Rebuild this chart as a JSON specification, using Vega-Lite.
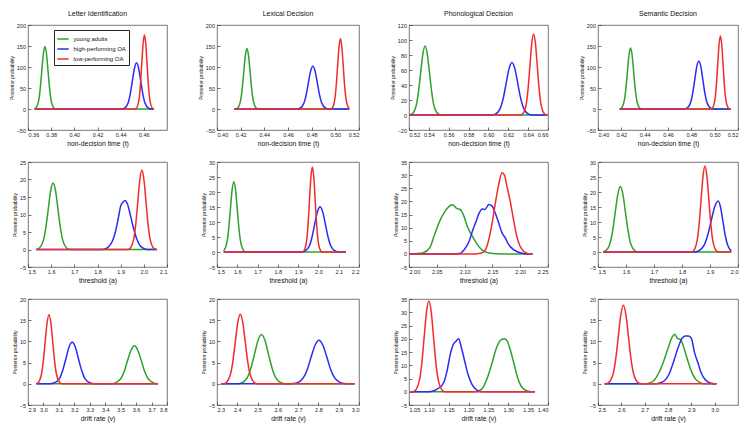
{
"$schema":"https://vega.github.io/schema/vega-lite/v6.json",
"padding":{"left":8,"top":9,"right":5,"bottom":3},
"background":"white",
"datasets":{
"p1":[{"g":"YA","x":0.3657,"y":0.3},{"g":"YA","x":0.3665,"y":1.6},{"g":"YA","x":0.3692,"y":20.1},{"g":"YA","x":0.37055,"y":48.4},{"g":"YA","x":0.3719,"y":90.4},{"g":"YA","x":0.37325,"y":131.6},{"g":"YA","x":0.3746,"y":149},{"g":"YA","x":0.37595,"y":131.6},{"g":"YA","x":0.3773,"y":90.4},{"g":"YA","x":0.37865,"y":48.4},{"g":"YA","x":0.38,"y":20.1},{"g":"YA","x":0.3827,"y":1.6},{"g":"YA","x":0.384,"y":0},{"g":"YA","x":0.4688,"y":0},
{"g":"HP","x":0.3657,"y":0},{"g":"HP","x":0.4411,"y":0},{"g":"HP","x":0.4429,"y":1.2},{"g":"HP","x":0.4465,"y":14.9},{"g":"HP","x":0.4483,"y":35.8},{"g":"HP","x":0.4501,"y":66.8},{"g":"HP","x":0.4519,"y":97.1},{"g":"HP","x":0.4537,"y":110},{"g":"HP","x":0.4555,"y":97.1},{"g":"HP","x":0.4573,"y":66.8},{"g":"HP","x":0.4591,"y":35.8},{"g":"HP","x":0.4609,"y":14.9},{"g":"HP","x":0.4645,"y":1.2},{"g":"HP","x":0.4663,"y":0},{"g":"HP","x":0.4688,"y":0},
{"g":"LP","x":0.3657,"y":0},{"g":"LP","x":0.4524,"y":0},{"g":"LP","x":0.4536,"y":1.9},{"g":"LP","x":0.4559,"y":23.8},{"g":"LP","x":0.45705,"y":57.2},{"g":"LP","x":0.4582,"y":106.8},{"g":"LP","x":0.45935,"y":155.4},{"g":"LP","x":0.4605,"y":176},{"g":"LP","x":0.46165,"y":155.4},{"g":"LP","x":0.4628,"y":106.8},{"g":"LP","x":0.46395,"y":57.2},{"g":"LP","x":0.4651,"y":23.8},{"g":"LP","x":0.4674,"y":1.9},{"g":"LP","x":0.4688,"y":0}],
"p2":[{"g":"YA","x":0.4146,"y":0},{"g":"YA","x":0.4159,"y":0},{"g":"YA","x":0.4172,"y":1.6},{"g":"YA","x":0.4199,"y":19.4},{"g":"YA","x":0.42125,"y":46.8},{"g":"YA","x":0.4226,"y":87.4},{"g":"YA","x":0.42395,"y":127.2},{"g":"YA","x":0.4253,"y":144},{"g":"YA","x":0.42665,"y":127.2},{"g":"YA","x":0.428,"y":87.4},{"g":"YA","x":0.42935,"y":46.8},{"g":"YA","x":0.4307,"y":19.4},{"g":"YA","x":0.4334,"y":1.6},{"g":"YA","x":0.4348,"y":0},{"g":"YA","x":0.5118,"y":0},
{"g":"HP","x":0.4146,"y":0},{"g":"HP","x":0.4677,"y":0},{"g":"HP","x":0.4696,"y":1.1},{"g":"HP","x":0.4734,"y":13.8},{"g":"HP","x":0.4753,"y":33.2},{"g":"HP","x":0.4772,"y":61.9},{"g":"HP","x":0.4791,"y":90.1},{"g":"HP","x":0.481,"y":102},{"g":"HP","x":0.4829,"y":90.1},{"g":"HP","x":0.4848,"y":61.9},{"g":"HP","x":0.4867,"y":33.2},{"g":"HP","x":0.4886,"y":13.8},{"g":"HP","x":0.4924,"y":1.1},{"g":"HP","x":0.4943,"y":0},{"g":"HP","x":0.5118,"y":0},
{"g":"LP","x":0.4146,"y":0},{"g":"LP","x":0.4959,"y":0},{"g":"LP","x":0.4971,"y":1.8},{"g":"LP","x":0.4995,"y":22.5},{"g":"LP","x":0.5007,"y":54.3},{"g":"LP","x":0.5019,"y":101.4},{"g":"LP","x":0.5031,"y":147.5},{"g":"LP","x":0.5043,"y":167},{"g":"LP","x":0.5055,"y":147.5},{"g":"LP","x":0.5067,"y":101.4},{"g":"LP","x":0.5079,"y":54.3},{"g":"LP","x":0.5091,"y":22.5},{"g":"LP","x":0.5115,"y":1.8},{"g":"LP","x":0.5118,"y":0.8}],
"p3":[{"g":"YA","x":0.5205,"y":0.1},{"g":"YA","x":0.5227,"y":1.0},{"g":"YA","x":0.5272,"y":12.4},{"g":"YA","x":0.52945,"y":29.9},{"g":"YA","x":0.5317,"y":55.8},{"g":"YA","x":0.53395,"y":81.2},{"g":"YA","x":0.5362,"y":92},{"g":"YA","x":0.53845,"y":81.2},{"g":"YA","x":0.5407,"y":55.8},{"g":"YA","x":0.54295,"y":29.9},{"g":"YA","x":0.5452,"y":12.4},{"g":"YA","x":0.5497,"y":1.0},{"g":"YA","x":0.552,"y":0},{"g":"YA","x":0.6595,"y":0},
{"g":"HP","x":0.5205,"y":0},{"g":"HP","x":0.6034,"y":0},{"g":"HP","x":0.6063,"y":0.8},{"g":"HP","x":0.6121,"y":9.5},{"g":"HP","x":0.615,"y":22.8},{"g":"HP","x":0.6179,"y":42.5},{"g":"HP","x":0.6208,"y":61.8},{"g":"HP","x":0.6237,"y":70},{"g":"HP","x":0.6266,"y":61.8},{"g":"HP","x":0.6295,"y":42.5},{"g":"HP","x":0.6324,"y":22.8},{"g":"HP","x":0.6353,"y":9.5},{"g":"HP","x":0.6411,"y":0.8},{"g":"HP","x":0.644,"y":0},{"g":"HP","x":0.6595,"y":0},
{"g":"LP","x":0.5205,"y":0},{"g":"LP","x":0.6326,"y":0},{"g":"LP","x":0.6344,"y":1.2},{"g":"LP","x":0.6381,"y":14.6},{"g":"LP","x":0.63995,"y":35.1},{"g":"LP","x":0.6418,"y":65.6},{"g":"LP","x":0.64365,"y":95.4},{"g":"LP","x":0.6455,"y":108},{"g":"LP","x":0.64735,"y":95.4},{"g":"LP","x":0.6492,"y":65.6},{"g":"LP","x":0.65105,"y":35.1},{"g":"LP","x":0.6529,"y":14.6},{"g":"LP","x":0.6566,"y":1.2},{"g":"LP","x":0.6585,"y":0},{"g":"LP","x":0.6595,"y":0}],
"p4":[{"g":"YA","x":0.4185,"y":0.1},{"g":"YA","x":0.4198,"y":1.6},{"g":"YA","x":0.4225,"y":19.6},{"g":"YA","x":0.42385,"y":47.1},{"g":"YA","x":0.4252,"y":88},{"g":"YA","x":0.42655,"y":128},{"g":"YA","x":0.4279,"y":145},{"g":"YA","x":0.42925,"y":128},{"g":"YA","x":0.4306,"y":88},{"g":"YA","x":0.43195,"y":47.1},{"g":"YA","x":0.4333,"y":19.6},{"g":"YA","x":0.436,"y":1.6},{"g":"YA","x":0.4374,"y":0},{"g":"YA","x":0.5137,"y":0},
{"g":"HP","x":0.4185,"y":0},{"g":"HP","x":0.4742,"y":0},{"g":"HP","x":0.4759,"y":1.3},{"g":"HP","x":0.4794,"y":15.4},{"g":"HP","x":0.48115,"y":37.1},{"g":"HP","x":0.4829,"y":69.2},{"g":"HP","x":0.48465,"y":100.7},{"g":"HP","x":0.4864,"y":114},{"g":"HP","x":0.48815,"y":100.7},{"g":"HP","x":0.4899,"y":69.2},{"g":"HP","x":0.49165,"y":37.1},{"g":"HP","x":0.4934,"y":15.4},{"g":"HP","x":0.4969,"y":1.3},{"g":"HP","x":0.4987,"y":0},{"g":"HP","x":0.5137,"y":0},
{"g":"LP","x":0.4185,"y":0},{"g":"LP","x":0.4969,"y":0},{"g":"LP","x":0.498,"y":1.9},{"g":"LP","x":0.5003,"y":23.5},{"g":"LP","x":0.50145,"y":56.6},{"g":"LP","x":0.5026,"y":105.6},{"g":"LP","x":0.50375,"y":153.6},{"g":"LP","x":0.5049,"y":174},{"g":"LP","x":0.50605,"y":153.6},{"g":"LP","x":0.5072,"y":105.6},{"g":"LP","x":0.50835,"y":56.6},{"g":"LP","x":0.5095,"y":23.5},{"g":"LP","x":0.5118,"y":1.9},{"g":"LP","x":0.513,"y":0},{"g":"LP","x":0.5137,"y":0}],
"p5":[{"g":"YA","x":1.536,"y":0},{"g":"YA","x":1.5454,"y":0.2},{"g":"YA","x":1.5664,"y":2.6},{"g":"YA","x":1.5769,"y":6.2},{"g":"YA","x":1.5874,"y":11.5},{"g":"YA","x":1.5979,"y":16.8},{"g":"YA","x":1.6084,"y":19},{"g":"YA","x":1.6189,"y":16.8},{"g":"YA","x":1.6294,"y":11.5},{"g":"YA","x":1.6399,"y":6.2},{"g":"YA","x":1.6504,"y":2.6},{"g":"YA","x":1.6714,"y":0.2},{"g":"YA","x":1.682,"y":0},{"g":"YA","x":2.057,"y":0},
{"g":"HP","x":1.536,"y":0},{"g":"HP","x":1.82,"y":0},{"g":"HP","x":1.835,"y":0.2},{"g":"HP","x":1.85,"y":0.9},{"g":"HP","x":1.865,"y":2.5},{"g":"HP","x":1.878,"y":5.2},{"g":"HP","x":1.89,"y":9.0},{"g":"HP","x":1.9,"y":12.4},{"g":"HP","x":1.91,"y":13.5},{"g":"HP","x":1.919,"y":14},{"g":"HP","x":1.928,"y":13.2},{"g":"HP","x":1.94,"y":10.4},{"g":"HP","x":1.955,"y":6.2},{"g":"HP","x":1.97,"y":2.9},{"g":"HP","x":1.985,"y":1.0},{"g":"HP","x":2.0,"y":0.3},{"g":"HP","x":2.015,"y":0},{"g":"HP","x":2.057,"y":0},
{"g":"LP","x":1.536,"y":0},{"g":"LP","x":1.9304,"y":0},{"g":"LP","x":1.9391,"y":0.25},{"g":"LP","x":1.9566,"y":3.1},{"g":"LP","x":1.9654,"y":7.4},{"g":"LP","x":1.9741,"y":13.8},{"g":"LP","x":1.9829,"y":20},{"g":"LP","x":1.9916,"y":22.7},{"g":"LP","x":2.0003,"y":20},{"g":"LP","x":2.0091,"y":13.8},{"g":"LP","x":2.0179,"y":7.4},{"g":"LP","x":2.0266,"y":3.1},{"g":"LP","x":2.0441,"y":0.25},{"g":"LP","x":2.0529,"y":0},{"g":"LP","x":2.057,"y":0}],
"p6":[{"g":"YA","x":1.533,"y":0.3},{"g":"YA","x":1.549,"y":3.2},{"g":"YA","x":1.5575,"y":7.6},{"g":"YA","x":1.566,"y":14.2},{"g":"YA","x":1.5745,"y":20.7},{"g":"YA","x":1.583,"y":23.4},{"g":"YA","x":1.5915,"y":20.7},{"g":"YA","x":1.6,"y":14.2},{"g":"YA","x":1.6085,"y":7.6},{"g":"YA","x":1.617,"y":3.2},{"g":"YA","x":1.634,"y":0.26},{"g":"YA","x":1.6425,"y":0},{"g":"YA","x":2.135,"y":0},
{"g":"HP","x":1.533,"y":0},{"g":"HP","x":1.9153,"y":0},{"g":"HP","x":1.9285,"y":0.17},{"g":"HP","x":1.955,"y":2.0},{"g":"HP","x":1.9683,"y":4.9},{"g":"HP","x":1.9815,"y":9.2},{"g":"HP","x":1.9948,"y":13.3},{"g":"HP","x":2.008,"y":15.1},{"g":"HP","x":2.0213,"y":13.3},{"g":"HP","x":2.0345,"y":9.2},{"g":"HP","x":2.0478,"y":4.9},{"g":"HP","x":2.061,"y":2.0},{"g":"HP","x":2.0875,"y":0.17},{"g":"HP","x":2.1008,"y":0},{"g":"HP","x":2.135,"y":0},
{"g":"LP","x":1.533,"y":0},{"g":"LP","x":1.9207,"y":0},{"g":"LP","x":1.9277,"y":0.3},{"g":"LP","x":1.9418,"y":3.8},{"g":"LP","x":1.9489,"y":9.2},{"g":"LP","x":1.9559,"y":17.2},{"g":"LP","x":1.963,"y":25},{"g":"LP","x":1.97,"y":28.3},{"g":"LP","x":1.9771,"y":25},{"g":"LP","x":1.9841,"y":17.2},{"g":"LP","x":1.9912,"y":9.2},{"g":"LP","x":1.9982,"y":3.8},{"g":"LP","x":2.0123,"y":0.3},{"g":"LP","x":2.0194,"y":0},{"g":"LP","x":2.135,"y":0}],
"p7":[{"g":"YA","x":2.0006,"y":0},{"g":"YA","x":2.015,"y":0.1},{"g":"YA","x":2.0254,"y":0.4},{"g":"YA","x":2.0372,"y":2.3},{"g":"YA","x":2.0461,"y":7.4},{"g":"YA","x":2.055,"y":12.4},{"g":"YA","x":2.0638,"y":15.9},{"g":"YA","x":2.0727,"y":18.2},{"g":"YA","x":2.0786,"y":18.7},{"g":"YA","x":2.0857,"y":17.3},{"g":"YA","x":2.0922,"y":16.9},{"g":"YA","x":2.0993,"y":14.1},{"g":"YA","x":2.1052,"y":10.3},{"g":"YA","x":2.1141,"y":6.7},{"g":"YA","x":2.1229,"y":3.6},{"g":"YA","x":2.1318,"y":1.4},{"g":"YA","x":2.1466,"y":0.25},{"g":"YA","x":2.1673,"y":0},{"g":"YA","x":2.2222,"y":0},
{"g":"HP","x":2.0006,"y":0},{"g":"HP","x":2.08,"y":0},{"g":"HP","x":2.0904,"y":0.1},{"g":"HP","x":2.0993,"y":1.6},{"g":"HP","x":2.1082,"y":4.8},{"g":"HP","x":2.114,"y":8.6},{"g":"HP","x":2.12,"y":12},{"g":"HP","x":2.1259,"y":15.4},{"g":"HP","x":2.1318,"y":17.1},{"g":"HP","x":2.1365,"y":16.9},{"g":"HP","x":2.1436,"y":18.8},{"g":"HP","x":2.1495,"y":18.2},{"g":"HP","x":2.1554,"y":15.4},{"g":"HP","x":2.1613,"y":11.8},{"g":"HP","x":2.1673,"y":8},{"g":"HP","x":2.1732,"y":6.1},{"g":"HP","x":2.1791,"y":3.6},{"g":"HP","x":2.188,"y":1.6},{"g":"HP","x":2.1998,"y":0.4},{"g":"HP","x":2.2116,"y":0},{"g":"HP","x":2.2222,"y":0},
{"g":"LP","x":2.0006,"y":0},{"g":"LP","x":2.12,"y":0},{"g":"LP","x":2.1318,"y":0.4},{"g":"LP","x":2.1377,"y":1.6},{"g":"LP","x":2.1436,"y":5.5},{"g":"LP","x":2.1495,"y":11.8},{"g":"LP","x":2.1554,"y":19.4},{"g":"LP","x":2.1613,"y":26.4},{"g":"LP","x":2.1673,"y":30.9},{"g":"LP","x":2.172,"y":29.8},{"g":"LP","x":2.1761,"y":25.8},{"g":"LP","x":2.182,"y":20.1},{"g":"LP","x":2.1879,"y":13.1},{"g":"LP","x":2.1939,"y":6.7},{"g":"LP","x":2.1998,"y":2.9},{"g":"LP","x":2.2086,"y":0.6},{"g":"LP","x":2.2175,"y":0},{"g":"LP","x":2.2222,"y":0}],
"p8":[{"g":"YA","x":1.518,"y":0.1},{"g":"YA","x":1.5249,"y":0.24},{"g":"YA","x":1.5432,"y":2.9},{"g":"YA","x":1.5524,"y":7.1},{"g":"YA","x":1.5615,"y":13.2},{"g":"YA","x":1.5707,"y":19.2},{"g":"YA","x":1.5798,"y":21.8},{"g":"YA","x":1.589,"y":19.2},{"g":"YA","x":1.5981,"y":13.2},{"g":"YA","x":1.6073,"y":7.1},{"g":"YA","x":1.6164,"y":2.9},{"g":"YA","x":1.6347,"y":0.24},{"g":"YA","x":1.6438,"y":0},{"g":"YA","x":1.976,"y":0},
{"g":"HP","x":1.518,"y":0},{"g":"HP","x":1.842,"y":0},{"g":"HP","x":1.854,"y":0.19},{"g":"HP","x":1.879,"y":2.3},{"g":"HP","x":1.8915,"y":5.5},{"g":"HP","x":1.904,"y":10.3},{"g":"HP","x":1.9165,"y":15},{"g":"HP","x":1.929,"y":17},{"g":"HP","x":1.9375,"y":15},{"g":"HP","x":1.946,"y":10.3},{"g":"HP","x":1.9545,"y":5.5},{"g":"HP","x":1.963,"y":2.3},{"g":"HP","x":1.976,"y":0.3},
{"g":"LP","x":1.518,"y":0},{"g":"LP","x":1.8334,"y":0},{"g":"LP","x":1.8403,"y":0.32},{"g":"LP","x":1.8542,"y":3.9},{"g":"LP","x":1.8612,"y":9.3},{"g":"LP","x":1.8681,"y":17.4},{"g":"LP","x":1.8751,"y":25.3},{"g":"LP","x":1.882,"y":28.7},{"g":"LP","x":1.889,"y":25.3},{"g":"LP","x":1.8959,"y":17.4},{"g":"LP","x":1.9029,"y":9.3},{"g":"LP","x":1.9098,"y":3.9},{"g":"LP","x":1.9237,"y":0.32},{"g":"LP","x":1.9307,"y":0},{"g":"LP","x":1.976,"y":0}],
"p9":[{"g":"YA","x":2.954,"y":0},{"g":"YA","x":3.434,"y":0},{"g":"YA","x":3.4561,"y":0.1},{"g":"YA","x":3.5004,"y":1.2},{"g":"YA","x":3.5226,"y":2.9},{"g":"YA","x":3.5447,"y":5.5},{"g":"YA","x":3.5669,"y":7.9},{"g":"YA","x":3.589,"y":9},{"g":"YA","x":3.6112,"y":7.9},{"g":"YA","x":3.6333,"y":5.5},{"g":"YA","x":3.6555,"y":2.9},{"g":"YA","x":3.6776,"y":1.2},{"g":"YA","x":3.7219,"y":0.1},{"g":"YA","x":3.742,"y":0},
{"g":"HP","x":2.954,"y":0},{"g":"HP","x":3.0436,"y":0},{"g":"HP","x":3.0639,"y":0.11},{"g":"HP","x":3.1046,"y":1.3},{"g":"HP","x":3.125,"y":3.2},{"g":"HP","x":3.1453,"y":5.9},{"g":"HP","x":3.1657,"y":8.7},{"g":"HP","x":3.186,"y":9.8},{"g":"HP","x":3.2064,"y":8.7},{"g":"HP","x":3.2267,"y":5.9},{"g":"HP","x":3.2471,"y":3.2},{"g":"HP","x":3.2674,"y":1.3},{"g":"HP","x":3.3081,"y":0.11},{"g":"HP","x":3.3285,"y":0},{"g":"HP","x":3.742,"y":0},
{"g":"LP","x":2.954,"y":0.1},{"g":"LP","x":2.9622,"y":0.18},{"g":"LP","x":2.9867,"y":2.2},{"g":"LP","x":2.999,"y":5.3},{"g":"LP","x":3.0112,"y":9.9},{"g":"LP","x":3.0235,"y":14.4},{"g":"LP","x":3.0357,"y":16.3},{"g":"LP","x":3.048,"y":14.4},{"g":"LP","x":3.0602,"y":9.9},{"g":"LP","x":3.0725,"y":5.3},{"g":"LP","x":3.0847,"y":2.2},{"g":"LP","x":3.1092,"y":0.18},{"g":"LP","x":3.1215,"y":0},{"g":"LP","x":3.742,"y":0}],
"p10":[{"g":"YA","x":2.32,"y":0},{"g":"YA","x":2.3989,"y":0},{"g":"YA","x":2.4161,"y":0.13},{"g":"YA","x":2.4505,"y":1.6},{"g":"YA","x":2.4677,"y":3.8},{"g":"YA","x":2.4849,"y":7},{"g":"YA","x":2.5021,"y":10.2},{"g":"YA","x":2.5193,"y":11.6},{"g":"YA","x":2.5365,"y":10.2},{"g":"YA","x":2.5537,"y":7},{"g":"YA","x":2.5709,"y":3.8},{"g":"YA","x":2.5881,"y":1.6},{"g":"YA","x":2.6225,"y":0.13},{"g":"YA","x":2.6397,"y":0},{"g":"YA","x":2.978,"y":0},
{"g":"HP","x":2.32,"y":0},{"g":"HP","x":2.6673,"y":0},{"g":"HP","x":2.6866,"y":0.11},{"g":"HP","x":2.7253,"y":1.4},{"g":"HP","x":2.7447,"y":3.3},{"g":"HP","x":2.764,"y":6.3},{"g":"HP","x":2.7834,"y":9.1},{"g":"HP","x":2.8027,"y":10.3},{"g":"HP","x":2.8221,"y":9.1},{"g":"HP","x":2.8414,"y":6.3},{"g":"HP","x":2.8608,"y":3.3},{"g":"HP","x":2.8801,"y":1.4},{"g":"HP","x":2.9188,"y":0.11},{"g":"HP","x":2.9382,"y":0},{"g":"HP","x":2.978,"y":0},
{"g":"LP","x":2.32,"y":0},{"g":"LP","x":2.3297,"y":0},{"g":"LP","x":2.3418,"y":0.18},{"g":"LP","x":2.3661,"y":2.2},{"g":"LP","x":2.3783,"y":5.3},{"g":"LP","x":2.3904,"y":10},{"g":"LP","x":2.4026,"y":14.5},{"g":"LP","x":2.4147,"y":16.4},{"g":"LP","x":2.4269,"y":14.5},{"g":"LP","x":2.439,"y":10},{"g":"LP","x":2.4512,"y":5.3},{"g":"LP","x":2.4633,"y":2.2},{"g":"LP","x":2.4876,"y":0.18},{"g":"LP","x":2.4998,"y":0},{"g":"LP","x":2.978,"y":0}],
"p11":[{"g":"YA","x":1.0525,"y":0},{"g":"YA","x":1.2167,"y":0},{"g":"YA","x":1.2333,"y":1},{"g":"YA","x":1.2458,"y":4.7},{"g":"YA","x":1.2583,"y":10.4},{"g":"YA","x":1.2708,"y":16.8},{"g":"YA","x":1.2817,"y":19.6},{"g":"YA","x":1.29,"y":20},{"g":"YA","x":1.2967,"y":19.3},{"g":"YA","x":1.3042,"y":16.2},{"g":"YA","x":1.3125,"y":11.7},{"g":"YA","x":1.3233,"y":5.4},{"g":"YA","x":1.335,"y":1.6},{"g":"YA","x":1.35,"y":0.2},{"g":"YA","x":1.3625,"y":0},{"g":"YA","x":1.3667,"y":0},
{"g":"HP","x":1.0525,"y":0},{"g":"HP","x":1.1,"y":0},{"g":"HP","x":1.1125,"y":0.4},{"g":"HP","x":1.125,"y":1.4},{"g":"HP","x":1.1375,"y":3.5},{"g":"HP","x":1.1458,"y":7.9},{"g":"HP","x":1.1542,"y":14.3},{"g":"HP","x":1.16,"y":17.4},{"g":"HP","x":1.1683,"y":19.1},{"g":"HP","x":1.175,"y":20},{"g":"HP","x":1.1817,"y":16.8},{"g":"HP","x":1.19,"y":11.7},{"g":"HP","x":1.1983,"y":6.7},{"g":"HP","x":1.2083,"y":2.9},{"g":"HP","x":1.2208,"y":0.6},{"g":"HP","x":1.2333,"y":0},{"g":"HP","x":1.3667,"y":0},
{"g":"LP","x":1.0525,"y":0},{"g":"LP","x":1.059,"y":0},{"g":"LP","x":1.0649,"y":0.38},{"g":"LP","x":1.0766,"y":4.6},{"g":"LP","x":1.0825,"y":11.1},{"g":"LP","x":1.0883,"y":20.8},{"g":"LP","x":1.0942,"y":30.2},{"g":"LP","x":1.1,"y":34.2},{"g":"LP","x":1.1059,"y":30.2},{"g":"LP","x":1.1117,"y":20.8},{"g":"LP","x":1.1176,"y":11.1},{"g":"LP","x":1.1234,"y":4.6},{"g":"LP","x":1.1351,"y":0.38},{"g":"LP","x":1.141,"y":0},{"g":"LP","x":1.3667,"y":0}],
"p12":[{"g":"YA","x":2.528,"y":0},{"g":"YA","x":2.705,"y":0},{"g":"YA","x":2.719,"y":0.2},{"g":"YA","x":2.74,"y":0.8},{"g":"YA","x":2.761,"y":2.6},{"g":"YA","x":2.782,"y":5.4},{"g":"YA","x":2.801,"y":8.5},{"g":"YA","x":2.818,"y":11},{"g":"YA","x":2.829,"y":11.7},{"g":"YA","x":2.84,"y":10.7},{"g":"YA","x":2.854,"y":10.4},{"g":"YA","x":2.868,"y":8.5},{"g":"YA","x":2.883,"y":5.8},{"g":"YA","x":2.897,"y":3.4},{"g":"YA","x":2.914,"y":1.4},{"g":"YA","x":2.934,"y":0.4},{"g":"YA","x":2.952,"y":0},{"g":"YA","x":3.008,"y":0},
{"g":"HP","x":2.528,"y":0},{"g":"HP","x":2.745,"y":0},{"g":"HP","x":2.761,"y":0.15},{"g":"HP","x":2.782,"y":0.6},{"g":"HP","x":2.804,"y":2.2},{"g":"HP","x":2.825,"y":5.4},{"g":"HP","x":2.843,"y":8.5},{"g":"HP","x":2.86,"y":10.7},{"g":"HP","x":2.874,"y":11.3},{"g":"HP","x":2.888,"y":11.3},{"g":"HP","x":2.9,"y":10.7},{"g":"HP","x":2.914,"y":7.3},{"g":"HP","x":2.928,"y":5},{"g":"HP","x":2.942,"y":2.6},{"g":"HP","x":2.959,"y":1},{"g":"HP","x":2.98,"y":0.2},{"g":"HP","x":3.001,"y":0},{"g":"HP","x":3.008,"y":0},
{"g":"LP","x":2.528,"y":0},{"g":"LP","x":2.5331,"y":0},{"g":"LP","x":2.5439,"y":0.2},{"g":"LP","x":2.5655,"y":2.5},{"g":"LP","x":2.5763,"y":6},{"g":"LP","x":2.5871,"y":11.2},{"g":"LP","x":2.5979,"y":16.3},{"g":"LP","x":2.6087,"y":18.5},{"g":"LP","x":2.6195,"y":16.3},{"g":"LP","x":2.6303,"y":11.2},{"g":"LP","x":2.6411,"y":6},{"g":"LP","x":2.6519,"y":2.5},{"g":"LP","x":2.6735,"y":0.2},{"g":"LP","x":2.6843,"y":0},{"g":"LP","x":3.008,"y":0}]
},
"concat":[
{"width":139,"height":105,"title":"Letter Identification","data":{"name":"p1"},"mark":"line","encoding":{
"x":{"field":"x","type":"quantitative","scale":{"domain":[0.36,0.48],"nice":false,"zero":false},"axis":{"values":[0.36,0.38,0.40,0.42,0.44,0.46],"format":".2f","title":"non-decision time (t)"}},
"y":{"field":"y","type":"quantitative","scale":{"domain":[-50,200],"nice":false},"axis":{"values":[-50,0,50,100,150,200],"title":"Posterior probability"}},
"color":{"field":"g","type":"nominal","scale":{"domain":["YA","HP","LP"],"range":["#2ea12e","#2b2bf2","#f22b2b"]},"legend":{"orient":"none","legendX":26,"legendY":5,"title":null,"strokeColor":"#222","fillColor":"white","padding":2.5,"cornerRadius":0,"symbolType":"stroke","symbolStrokeWidth":2,"symbolSize":130,"labelFontSize":6,"labelColor":"#111","labelOffset":4,"rowPadding":0,"labelExpr":"datum.label == 'YA' ? 'young adults' : datum.label == 'HP' ? 'high-performing OA' : 'low-performing OA'"}}}},
{"width":142,"height":105,"title":"Lexical Decision","data":{"name":"p2"},"mark":"line","encoding":{
"x":{"field":"x","type":"quantitative","scale":{"domain":[0.40,0.52],"nice":false,"zero":false},"axis":{"values":[0.40,0.42,0.44,0.46,0.48,0.50,0.52],"format":".2f","title":"non-decision time (t)"}},
"y":{"field":"y","type":"quantitative","scale":{"domain":[-50,200],"nice":false},"axis":{"values":[-50,0,50,100,150,200],"title":"Posterior probability"}},
"color":{"field":"g","type":"nominal","scale":{"domain":["YA","HP","LP"],"range":["#2ea12e","#2b2bf2","#f22b2b"]},"legend":null}}},
{"width":139,"height":105,"title":"Phonological Decision","data":{"name":"p3"},"mark":"line","encoding":{
"x":{"field":"x","type":"quantitative","scale":{"domain":[0.52,0.66],"nice":false,"zero":false},"axis":{"values":[0.52,0.54,0.56,0.58,0.60,0.62,0.64,0.66],"format":".2f","title":"non-decision time (t)"}},
"y":{"field":"y","type":"quantitative","scale":{"domain":[-20,120],"nice":false},"axis":{"values":[-20,0,20,40,60,80,100,120],"title":"Posterior probability"}},
"color":{"field":"g","type":"nominal","scale":{"domain":["YA","HP","LP"],"range":["#2ea12e","#2b2bf2","#f22b2b"]},"legend":null}}},
{"width":140,"height":105,"title":"Semantic Decision","data":{"name":"p4"},"mark":"line","encoding":{
"x":{"field":"x","type":"quantitative","scale":{"domain":[0.40,0.52],"nice":false,"zero":false},"axis":{"values":[0.40,0.42,0.44,0.46,0.48,0.50,0.52],"format":".2f","title":"non-decision time (t)"}},
"y":{"field":"y","type":"quantitative","scale":{"domain":[-50,200],"nice":false},"axis":{"values":[-50,0,50,100,150,200],"title":"Posterior probability"}},
"color":{"field":"g","type":"nominal","scale":{"domain":["YA","HP","LP"],"range":["#2ea12e","#2b2bf2","#f22b2b"]},"legend":null}}},
{"width":139,"height":105,"data":{"name":"p5"},"mark":"line","encoding":{
"x":{"field":"x","type":"quantitative","scale":{"domain":[1.5,2.1],"nice":false,"zero":false},"axis":{"values":[1.5,1.6,1.7,1.8,1.9,2.0,2.1],"format":".1f","title":"threshold (a)"}},
"y":{"field":"y","type":"quantitative","scale":{"domain":[-5,25],"nice":false},"axis":{"values":[-5,0,5,10,15,20,25],"title":"Posterior probability"}},
"color":{"field":"g","type":"nominal","scale":{"domain":["YA","HP","LP"],"range":["#2ea12e","#2b2bf2","#f22b2b"]},"legend":null}}},
{"width":142,"height":105,"data":{"name":"p6"},"mark":"line","encoding":{
"x":{"field":"x","type":"quantitative","scale":{"domain":[1.5,2.2],"nice":false,"zero":false},"axis":{"values":[1.5,1.6,1.7,1.8,1.9,2.0,2.1,2.2],"format":".1f","title":"threshold (a)"}},
"y":{"field":"y","type":"quantitative","scale":{"domain":[-5,30],"nice":false},"axis":{"values":[-5,0,5,10,15,20,25,30],"title":"Posterior probability"}},
"color":{"field":"g","type":"nominal","scale":{"domain":["YA","HP","LP"],"range":["#2ea12e","#2b2bf2","#f22b2b"]},"legend":null}}},
{"width":139,"height":105,"data":{"name":"p7"},"mark":"line","encoding":{
"x":{"field":"x","type":"quantitative","scale":{"domain":[2.0,2.25],"nice":false,"zero":false},"axis":{"values":[2.0,2.05,2.1,2.15,2.2,2.25],"format":".2f","title":"threshold (a)"}},
"y":{"field":"y","type":"quantitative","scale":{"domain":[-5,35],"nice":false},"axis":{"values":[-5,0,5,10,15,20,25,30,35],"title":"Posterior probability"}},
"color":{"field":"g","type":"nominal","scale":{"domain":["YA","HP","LP"],"range":["#2ea12e","#2b2bf2","#f22b2b"]},"legend":null}}},
{"width":140,"height":105,"data":{"name":"p8"},"mark":"line","encoding":{
"x":{"field":"x","type":"quantitative","scale":{"domain":[1.5,2.0],"nice":false,"zero":false},"axis":{"values":[1.5,1.6,1.7,1.8,1.9,2.0],"format":".1f","title":"threshold (a)"}},
"y":{"field":"y","type":"quantitative","scale":{"domain":[-5,30],"nice":false},"axis":{"values":[-5,0,5,10,15,20,25,30],"title":"Posterior probability"}},
"color":{"field":"g","type":"nominal","scale":{"domain":["YA","HP","LP"],"range":["#2ea12e","#2b2bf2","#f22b2b"]},"legend":null}}},
{"width":139,"height":106,"data":{"name":"p9"},"mark":"line","encoding":{
"x":{"field":"x","type":"quantitative","scale":{"domain":[2.9,3.8],"nice":false,"zero":false},"axis":{"values":[2.9,3.0,3.1,3.2,3.3,3.4,3.5,3.6,3.7,3.8],"format":".1f","title":"drift rate (v)"}},
"y":{"field":"y","type":"quantitative","scale":{"domain":[-5,20],"nice":false},"axis":{"values":[-5,0,5,10,15,20],"title":"Posterior probability"}},
"color":{"field":"g","type":"nominal","scale":{"domain":["YA","HP","LP"],"range":["#2ea12e","#2b2bf2","#f22b2b"]},"legend":null}}},
{"width":142,"height":106,"data":{"name":"p10"},"mark":"line","encoding":{
"x":{"field":"x","type":"quantitative","scale":{"domain":[2.3,3.0],"nice":false,"zero":false},"axis":{"values":[2.3,2.4,2.5,2.6,2.7,2.8,2.9,3.0],"format":".1f","title":"drift rate (v)"}},
"y":{"field":"y","type":"quantitative","scale":{"domain":[-5,20],"nice":false},"axis":{"values":[-5,0,5,10,15,20],"title":"Posterior probability"}},
"color":{"field":"g","type":"nominal","scale":{"domain":["YA","HP","LP"],"range":["#2ea12e","#2b2bf2","#f22b2b"]},"legend":null}}},
{"width":139,"height":106,"data":{"name":"p11"},"mark":"line","encoding":{
"x":{"field":"x","type":"quantitative","scale":{"domain":[1.05,1.4],"nice":false,"zero":false},"axis":{"values":[1.05,1.1,1.15,1.2,1.25,1.3,1.35,1.4],"format":".2f","title":"drift rate (v)"}},
"y":{"field":"y","type":"quantitative","scale":{"domain":[-5,35],"nice":false},"axis":{"values":[-5,0,5,10,15,20,25,30,35],"title":"Posterior probability"}},
"color":{"field":"g","type":"nominal","scale":{"domain":["YA","HP","LP"],"range":["#2ea12e","#2b2bf2","#f22b2b"]},"legend":null}}},
{"width":140,"height":106,"data":{"name":"p12"},"mark":"line","encoding":{
"x":{"field":"x","type":"quantitative","scale":{"domain":[2.5,3.1],"nice":false,"zero":false},"axis":{"values":[2.5,2.6,2.7,2.8,2.9,3.0],"format":".1f","title":"drift rate (v)"}},
"y":{"field":"y","type":"quantitative","scale":{"domain":[-5,20],"nice":false},"axis":{"values":[-5,0,5,10,15,20],"title":"Posterior probability"}},
"color":{"field":"g","type":"nominal","scale":{"domain":["YA","HP","LP"],"range":["#2ea12e","#2b2bf2","#f22b2b"]},"legend":null}}}
],
"columns":4,
"spacing":{"row":32,"column":50},
"bounds":"flush",
"resolve":{"scale":{"color":"independent"},"legend":{"color":"independent"}},
"config":{
"font":"Liberation Sans",
"view":{"stroke":"#555","strokeWidth":0.8},
"axis":{"grid":false,"domain":false,"tickSize":-3,"tickColor":"#333","tickWidth":0.7,"labelFontSize":5.5,"labelColor":"#222","labelPadding":5.5,"titleFontWeight":"normal","titleColor":"#111"},
"axisX":{"titleFontSize":6.8,"titlePadding":2},
"axisY":{"titleFontSize":5,"titlePadding":2},
"title":{"fontSize":7,"fontWeight":"normal","color":"#111","offset":6},
"line":{"interpolate":"monotone","strokeWidth":1.5}
}
}
